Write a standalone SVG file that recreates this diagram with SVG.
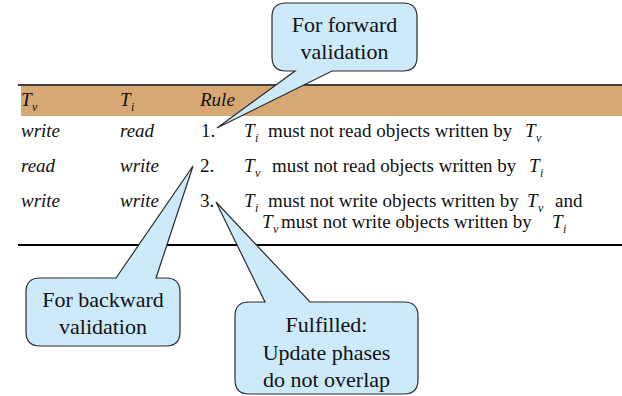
<svg xmlns="http://www.w3.org/2000/svg" width="622" height="396" viewBox="0 0 622 396">
  <style>
    .cell { font-size: 19px; }
    .it { font-style: italic; }
    .sub { font-size: 12px; font-style: italic; }
    .note { font-size: 22px; text-anchor: middle; }
    .bubble { fill: #cdeafb; stroke: #2a2a2a; stroke-width: 1.2; stroke-linejoin: miter; }
    .rule { stroke: #000; }
  </style>

  <!-- table: header band, rules and rows -->
  <g id="table" font-family="Liberation Serif, Times New Roman, Times, DejaVu Serif, Noto Serif, serif" fill="#111">
    <rect x="21" y="86" width="601" height="30" fill="#d7a874"/>
    <line class="rule" x1="18" y1="85" x2="622" y2="85" stroke-width="1.6"/>
    <line class="rule" x1="18" y1="245" x2="622" y2="245" stroke-width="2"/>

    <!-- header -->
    <text class="cell it" x="21" y="106">T</text><text class="sub" x="32" y="111">v</text>
    <text class="cell it" x="120" y="106">T</text><text class="sub" x="131" y="111">i</text>
    <text class="cell it" x="200" y="106">Rule</text>

    <!-- row 1 -->
    <text class="cell it" x="21" y="137">write</text>
    <text class="cell it" x="120" y="137">read</text>
    <text class="cell" x="201" y="137">1.</text>
    <text class="cell it" x="244" y="137">T</text><text class="sub" x="255" y="142">i</text>
    <text class="cell" x="268" y="137">must not read objects written by</text>
    <text class="cell it" x="525" y="137">T</text><text class="sub" x="536" y="142">v</text>

    <!-- row 2 -->
    <text class="cell it" x="21" y="172">read</text>
    <text class="cell it" x="120" y="172">write</text>
    <text class="cell" x="200" y="172">2.</text>
    <text class="cell it" x="244" y="172">T</text><text class="sub" x="255" y="177">v</text>
    <text class="cell" x="272" y="172">must not read objects written by</text>
    <text class="cell it" x="529" y="172">T</text><text class="sub" x="540" y="177">i</text>

    <!-- row 3 -->
    <text class="cell it" x="21" y="207">write</text>
    <text class="cell it" x="120" y="207">write</text>
    <text class="cell" x="200" y="207">3.</text>
    <text class="cell it" x="244" y="207">T</text><text class="sub" x="255" y="212">i</text>
    <text class="cell" x="268" y="207">must not write objects written by</text>
    <text class="cell it" x="527" y="207">T</text><text class="sub" x="538" y="212">v</text>
    <text class="cell" x="555" y="207">and</text>

    <text class="cell it" x="262" y="228">T</text><text class="sub" x="273" y="233">v</text>
    <text class="cell" x="281" y="228">must not write objects written by</text>
    <text class="cell it" x="552" y="228">T</text><text class="sub" x="563" y="233">i</text>
  </g>

  <!-- speech bubbles; each tail points at a rule number -->
  <g id="connectors"></g>

  <g id="forward" font-family="Liberation Serif, Times New Roman, Times, DejaVu Serif, Noto Serif, serif" fill="#111">
    <path class="bubble" d="M286,3 H403 Q417,3 417,17 V57 Q417,71 403,71 H332 L217,128 L295,71 H286 Q272,71 272,57 V17 Q272,3 286,3 Z"/>
    <text class="note" x="344.5" y="32">For forward</text>
    <text class="note" x="344.5" y="59">validation</text>
  </g>

  <g id="backward" font-family="Liberation Serif, Times New Roman, Times, DejaVu Serif, Noto Serif, serif" fill="#111">
    <path class="bubble" d="M40,278 H116 L193,166 L156,278 H166 Q180,278 180,292 V332 Q180,346 166,346 H40 Q26,346 26,332 V292 Q26,278 40,278 Z"/>
    <text class="note" x="103" y="307">For backward</text>
    <text class="note" x="103" y="334">validation</text>
  </g>

  <g id="fulfilled" font-family="Liberation Serif, Times New Roman, Times, DejaVu Serif, Noto Serif, serif" fill="#111">
    <path class="bubble" d="M249,302 H265 L216,202 L310,302 H404 Q418,302 418,316 V380 Q418,394 404,394 H249 Q235,394 235,380 V316 Q235,302 249,302 Z"/>
    <text class="note" x="326.5" y="332">Fulfilled:</text>
    <text class="note" x="326.5" y="360">Update phases</text>
    <text class="note" x="326.5" y="387">do not overlap</text>
  </g>
</svg>
